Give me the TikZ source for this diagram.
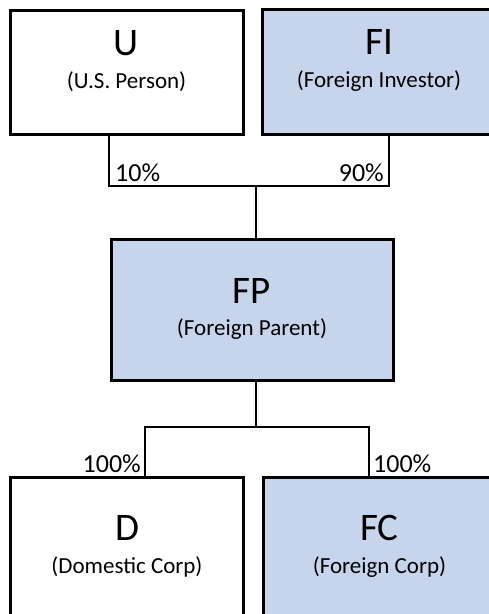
\documentclass[tikz,border=0pt]{standalone}
\usepackage{fontspec}
\setmainfont{Carlito}
\usetikzlibrary{positioning}

\begin{document}
\begin{tikzpicture}[x=1pt,y=-1pt,
  box/.style={draw=black, line width=3pt, minimum width=233pt, minimum height=124pt, inner sep=0pt},
  link/.style={draw=black, line width=1.3pt},
  title/.style={anchor=base, font=\fontsize{39}{41}\selectfont},
  sub/.style={anchor=base, font=\fontsize{23}{25}\selectfont},
  pct/.style={font=\fontsize{26}{28}\selectfont, inner sep=0pt}]
\definecolor{FBlue}{RGB}{199,213,236}
\useasboundingbox (0,0) rectangle (488,614);

% ======================= Gesellschafter (oben) =======================
\node[box] (U) at (126.5,72) {};
\node[title] (Ut) at ([yshift=-47pt]U.north) {U};
\node[sub] (Us) at ([yshift=-80pt]U.north) {(U.S. Person)};

\node[box, fill=FBlue, minimum height=125pt] (FI) at (379,71.5) {};
\node[title] (FIt) at ([yshift=-47pt]FI.north) {FI};
\node[sub] (FIs) at ([yshift=-80pt]FI.north) {(Foreign Investor)};

% ======================= Mutter =======================
\node[box, fill=FBlue, minimum width=282pt, minimum height=141pt] (FP) at (252,309.5) {};
\node[title] (FPt) at ([yshift=-66pt]FP.north) {FP};
\node[sub] (FPs) at ([yshift=-98pt]FP.north) {(Foreign Parent)};

% ======================= Toechter (unten) =======================
\node[box, minimum height=150pt] (D) at (127,552) {};
\node[title] (Dt) at ([yshift=-65pt]D.north) {D};
\node[sub] (Ds) at ([yshift=-98pt]D.north) {(Domestic Corp)};

\node[box, fill=FBlue, minimum height=150pt] (FC) at (379.5,552) {};
\node[title] (FCt) at ([yshift=-65pt]FC.north) {FC};
\node[sub] (FCs) at ([yshift=-98pt]FC.north) {(Foreign Corp)};

% Verbindungen
\coordinate (top) at (256,186);
\coordinate (bot) at (256,427);
\draw[link] ([xshift=-17.5pt]U.south) |- (top) -| ([xshift=10pt]FI.south);
\draw[link] (top) -- (top |- FP.north);
\draw[link] (FP.south -| bot) -- (bot);
\draw[link] ([xshift=18pt]D.north) |- (bot) -| ([xshift=-10.5pt]FC.north);

% Anteile
\node[pct, anchor=south west] (p10) at (115,182) {10\%};
\node[pct, anchor=south east] (p90) at (384,182) {90\%};
\node[pct, anchor=south east] (p100a) at (141,473) {100\%};
\node[pct, anchor=south west] (p100b) at (373,473) {100\%};

\end{tikzpicture}
\end{document}
